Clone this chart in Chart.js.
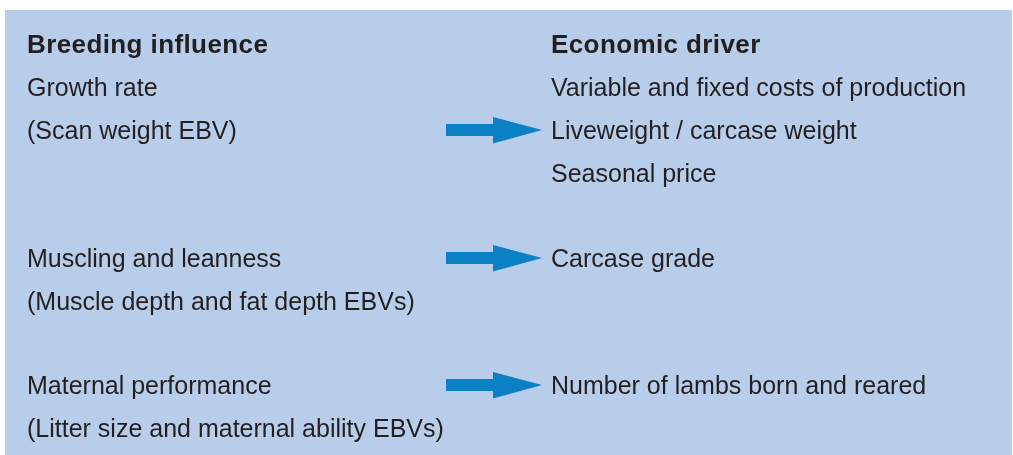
<!DOCTYPE html>
<html>
<head>
<meta charset="utf-8">
<script src="https://cdn.jsdelivr.net/npm/chart.js@4"></script>
<style>
	html, body { margin: 0; padding: 0; background: #fff; }
	#wrap { width: 1013px; height: 455px; }
</style>
</head>
<body>
<div id="wrap"><canvas id="myChart_breeding"></canvas></div>
<script>
// Table content
const headings = ['Breeding influence', 'Economic driver'];
const influences = ['Growth rate', 'Muscling and leanness', 'Maternal performance'];
const influenceEBVs = ['(Scan weight EBV)', '(Muscle depth and fat depth EBVs)', '(Litter size and maternal ability EBVs)'];
const drivers = [
	['Variable and fixed costs of production', 'Liveweight / carcase weight', 'Seasonal price'],
	['Carcase grade'],
	['Number of lambs born and reared'],
];

// layout (in scale units = px)
const leftX = 27;
const rightX = 551;
const headBase = 53;
const lineGap = 43;
const groupBase = [96, 267, 394];
const arrowLine = [1, 0, 0]; // driver line each arrow points at

const textColor = '#231f20';
const boxColor = '#b8cde9';
const arrowColor = '#0b80c4';

const boxPlugin = {
	id: 'boxPlugin',
	beforeDraw(chart) {
		const { ctx, scales: { x, y } } = chart;
		ctx.save();
		ctx.fillStyle = boxColor;
		ctx.fillRect(x.getPixelForValue(5), y.getPixelForValue(10), x.getPixelForValue(1012) - x.getPixelForValue(5), y.getPixelForValue(455) - y.getPixelForValue(10));
		ctx.restore();
	}
};

const textPlugin = {
	id: 'textPlugin',
	afterDatasetsDraw(chart) {
		const { ctx, scales: { x, y } } = chart;
		ctx.save();
		ctx.fillStyle = textColor;
		ctx.textBaseline = 'alphabetic';
		ctx.textAlign = 'left';

		ctx.font = 'bold 26px "Liberation Sans", Arial, sans-serif';
		ctx.letterSpacing = '0.4px';
		ctx.fillText(headings[0], x.getPixelForValue(leftX), y.getPixelForValue(headBase));
		ctx.fillText(headings[1], x.getPixelForValue(rightX), y.getPixelForValue(headBase));

		ctx.font = '25px "Liberation Sans", Arial, sans-serif';
		ctx.letterSpacing = '0px';
		influences.forEach((t, i) => {
			ctx.fillText(t, x.getPixelForValue(leftX), y.getPixelForValue(groupBase[i]));
			ctx.fillText(influenceEBVs[i], x.getPixelForValue(leftX), y.getPixelForValue(groupBase[i] + lineGap));
			drivers[i].forEach((d, j) => {
				ctx.fillText(d, x.getPixelForValue(rightX), y.getPixelForValue(groupBase[i] + j * lineGap));
			});
		});

		// arrows
		ctx.fillStyle = arrowColor;
		influences.forEach((t, i) => {
			const cy = y.getPixelForValue(groupBase[i] + arrowLine[i] * lineGap - 9);
			const x0 = x.getPixelForValue(446);
			const xb = x.getPixelForValue(493);
			const xt = x.getPixelForValue(542);
			ctx.fillRect(x0, cy - 6, xb - x0 + 1, 12);
			ctx.beginPath();
			ctx.moveTo(xb, cy - 13);
			ctx.lineTo(xt, cy);
			ctx.lineTo(xb, cy + 13.5);
			ctx.closePath();
			ctx.fill();
		});
		ctx.restore();
	}
};

const ctx = document.getElementById('myChart_breeding').getContext('2d');
const myChart_breeding = new Chart(ctx, {
	type: 'scatter',
	data: {
		datasets: [{
			data: [],
		}]
	},
	options: {
		animation: false,
		maintainAspectRatio: false,
		responsive: true,
		layout: { padding: 0 },
		scales: {
			x: { type: 'linear', min: 0, max: 1013, display: false },
			y: { type: 'linear', min: 0, max: 455, reverse: true, display: false },
		},
		plugins: {
			legend: { display: false },
			tooltip: { enabled: false },
			title: { display: false }
		}
	},
	plugins: [boxPlugin, textPlugin]
});
</script>
</body>
</html>
